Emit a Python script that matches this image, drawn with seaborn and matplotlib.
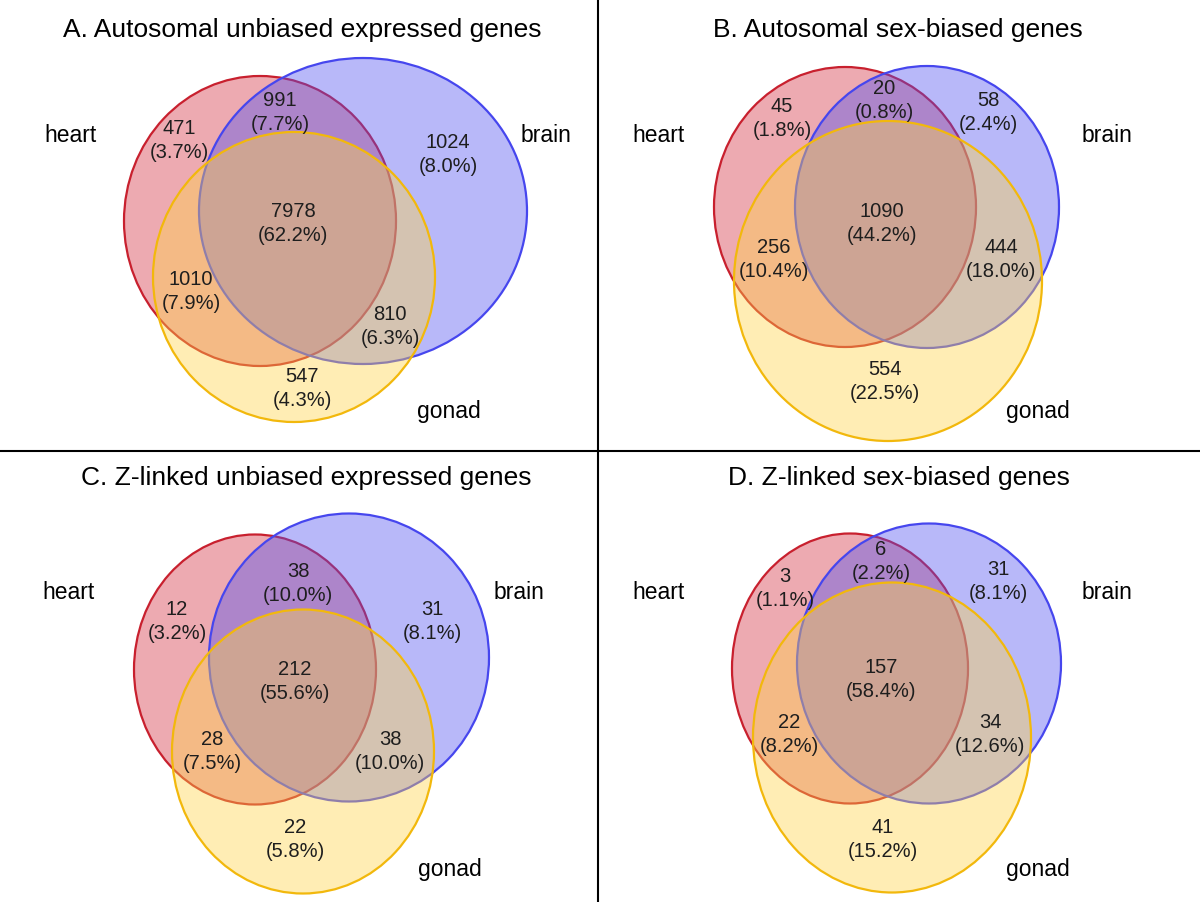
import matplotlib
matplotlib.use("Agg")
import matplotlib.pyplot as plt
from matplotlib.patches import Ellipse
from matplotlib.lines import Line2D
import seaborn as sns

sns.set_style("white")
plt.rcParams["font.family"] = ["Liberation Sans", "DejaVu Sans"]

# --- data -------------------------------------------------------------
titles = ["A. Autosomal unbiased expressed genes",
          "B. Autosomal sex-biased genes",
          "C. Z-linked unbiased expressed genes",
          "D. Z-linked sex-biased genes"]
set_names = ["heart", "brain", "gonad"]

# region order: heart only, heart&brain, brain only, all three,
#               heart&gonad, brain&gonad, gonad only
counts_a = [471, 991, 1024, 7978, 1010, 810, 547]
pct_a = [3.7, 7.7, 8.0, 62.2, 7.9, 6.3, 4.3]
counts_b = [45, 20, 58, 1090, 256, 444, 554]
pct_b = [1.8, 0.8, 2.4, 44.2, 10.4, 18.0, 22.5]
counts_c = [12, 38, 31, 212, 28, 38, 22]
pct_c = [3.2, 10.0, 8.1, 55.6, 7.5, 10.0, 5.8]
counts_d = [3, 6, 31, 157, 22, 34, 41]
pct_d = [1.1, 2.2, 8.1, 58.4, 8.2, 12.6, 15.2]

# --- layout (panel pixel coords, y down) ------------------------------
# ellipses: (cx, cy, rx, ry) for heart, brain, gonad
shapes = [
    [(260, 222, 136, 145), (363, 212, 164, 153), (294, 278, 141, 145)],
    [(245, 208, 131, 140), (327, 208, 132, 141), (288, 282, 154, 160)],
    [(255, 219, 121, 135), (349, 207, 140, 144), (303, 301, 131, 142)],
    [(250, 218, 118, 135), (329, 213, 132, 140), (292, 287, 139, 155)],
]
region_pos = [
    [(179, 128), (280, 100), (448, 142), (293, 212), (191, 280), (390, 315), (302, 377)],
    [(182, 106), (284, 89), (388, 100), (282, 212), (174, 248), (401, 248), (285, 370)],
    [(177, 158), (298, 120), (432, 158), (295, 218), (212, 288), (390, 288), (295, 376)],
    [(185, 125), (281, 98), (398, 118), (281, 216), (189, 271), (390, 271), (283, 376)],
]
name_pos = [
    [(70, 135), (546, 135), (449, 412)],
    [(59, 135), (507, 135), (438, 412)],
    [(69, 141), (519, 141), (450, 418)],
    [(59, 141), (507, 141), (438, 418)],
]
title_pos = [(302, 30), (298, 30), (306, 27), (299, 27)]

fill_cols = [(0.83, 0.17, 0.24), (0.31, 0.31, 0.95), (1.0, 0.83, 0.27)]
edge_cols = ["#C8202E", "#4646EE", "#F2B80C"]

all_counts = [counts_a, counts_b, counts_c, counts_d]
all_pct = [pct_a, pct_b, pct_c, pct_d]

fig, axs = plt.subplots(2, 2, figsize=(12, 9.03), dpi=100)
fig.subplots_adjust(left=0, right=1, bottom=0, top=1, wspace=0, hspace=0)

for i, ax in enumerate(axs.flat):
    ax.set_xlim(0, 600)
    ax.set_ylim(451.5, 0)
    ax.axis("off")

    for (cx, cy, rx, ry), fc, ec in zip(shapes[i], fill_cols, edge_cols):
        ax.add_patch(Ellipse((cx, cy), 2 * rx, 2 * ry,
                             facecolor=(*fc, 0.4), edgecolor=ec, lw=1.6))

    for (x, y), n, p in zip(region_pos[i], all_counts[i], all_pct[i]):
        ax.text(x, y, str(n), ha="center", va="center", fontsize=14.5, color="#1e1e1e")
        ax.text(x, y + 24, f"({p:.1f}%)", ha="center", va="center",
                fontsize=14.5, color="#1e1e1e")

    for (x, y), name in zip(name_pos[i], set_names):
        ax.text(x, y, name, ha="center", va="center", fontsize=16.5, color="black")

    tx, ty = title_pos[i]
    ax.text(tx, ty, titles[i], ha="center", va="center", fontsize=19, color="black")

# panel dividers
fig.add_artist(Line2D([0, 1], [0.5, 0.5], transform=fig.transFigure, color="black", lw=1.5))
fig.add_artist(Line2D([0.4983, 0.4983], [0, 1], transform=fig.transFigure, color="black", lw=1.5))

fig.savefig("out.png", dpi=100, facecolor="white")
